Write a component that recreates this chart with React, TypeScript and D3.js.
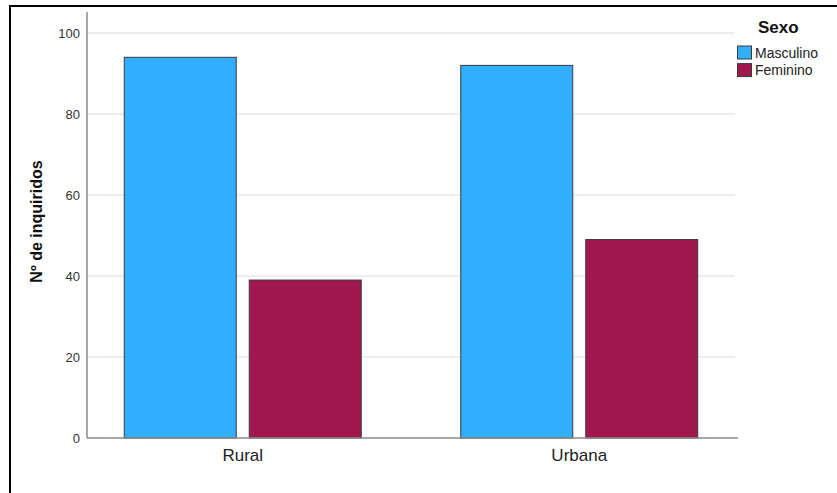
import React from "react";
import * as d3 from "d3";

const categories = ["Rural", "Urbana"];
const series = ["Masculino", "Feminino"];
const masculino = [94, 92];
const feminino = [39, 49];
const yTicks = [0, 20, 40, 60, 80, 100];
const colors = ["#32AEFE", "#A0184E"];

const W = 837;
const H = 493;

export default function App() {
  const left = 87;
  const right = 735;
  const y = d3.scaleLinear().domain([0, 100]).range([438, 33]);
  const x = d3
    .scaleBand<string>()
    .domain(categories)
    .range([left, right])
    .paddingInner(0.2957)
    .paddingOuter(0.1107);
  const xs = d3
    .scaleBand<string>()
    .domain(series)
    .range([0, x.bandwidth()])
    .paddingInner(0.104)
    .paddingOuter(0);
  const values = [masculino, feminino];
  const font = "Arial, 'Liberation Sans', Helvetica, sans-serif";

  return (
    <svg
      width={W}
      height={H}
      style={{ position: "absolute", left: 0, top: 0, background: "#fff" }}
      fontFamily={font}
    >
      <rect x={0} y={0} width={W} height={H} fill="#fff" />
      <rect x={10} y={6} width={W + 20} height={H + 20} fill="none" stroke="#000" strokeWidth={2} />
      {/* gridlines */}
      {yTicks.filter((t) => t > 0).map((t) => (
        <line key={t} x1={left} x2={right} y1={y(t)} y2={y(t)} stroke="#dcdcdc" strokeWidth={1.2} />
      ))}
      {/* bars */}
      {categories.map((c, ci) =>
        series.map((s, si) => (
          <rect
            key={c + s}
            x={(x(c) as number) + (xs(s) as number)}
            y={y(values[si][ci])}
            width={xs.bandwidth()}
            height={y(0) - y(values[si][ci])}
            fill={colors[si]}
            stroke="#3a3a3a"
            strokeWidth={1}
          />
        ))
      )}
      {/* axes */}
      <line x1={left} x2={left} y1={12} y2={y(0)} stroke="#a8a8a8" strokeWidth={2} />
      <line x1={left} x2={right + 3} y1={y(0)} y2={y(0)} stroke="#8a8a8a" strokeWidth={1.5} />
      {yTicks.map((t) => (
        <text key={t} x={80} y={y(t)} dy="0.35em" textAnchor="end" fontSize={13} fill="#333">
          {t}
        </text>
      ))}
      {categories.map((c) => (
        <text
          key={c}
          x={(x(c) as number) + x.bandwidth() / 2}
          y={460.5}
          textAnchor="middle"
          fontSize={17}
          fill="#222"
        >
          {c}
        </text>
      ))}
      <text
        transform={`translate(42,${221.5}) rotate(-90)`}
        textAnchor="middle"
        fontSize={16}
        fontWeight="bold"
        fill="#111"
      >
        Nº de inquiridos
      </text>
      {/* legend */}
      <text x={758} y={33.3} fontSize={17} fontWeight="bold" fill="#111">
        Sexo
      </text>
      {series.map((s, i) => (
        <g key={s} transform={`translate(737.5,${46 + i * 17.6})`}>
          <rect x={0} y={0} width={14} height={13} fill={colors[i]} stroke="#3a3a3a" strokeWidth={1} />
          <text x={17.5} y={6.8} dy="0.35em" fontSize={14} fill="#222">
            {s}
          </text>
        </g>
      ))}
    </svg>
  );
}
